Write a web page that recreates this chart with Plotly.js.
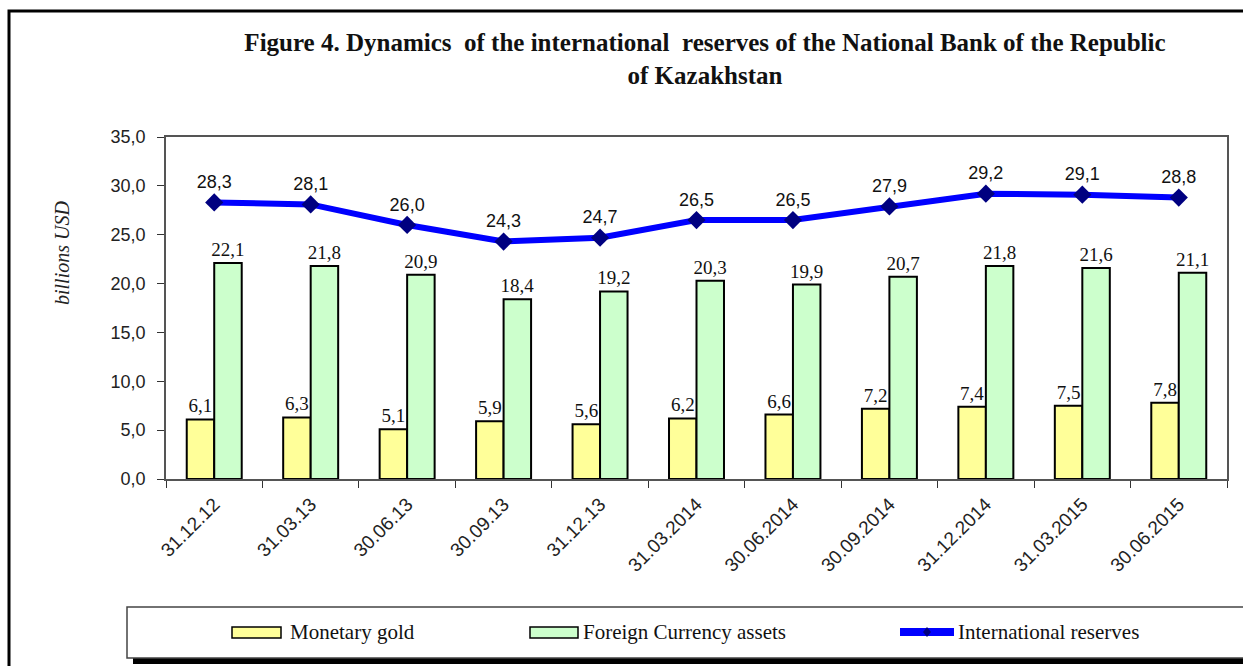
<!DOCTYPE html>
<html>
<head>
<meta charset="utf-8">
<script src="https://cdn.plot.ly/plotly-3.0.1.min.js"></script>
<style>
  body { margin: 0; background: #fff; }
  #chart { width: 1243px; height: 666px; }
</style>
</head>
<body>
<div id="chart"></div>
<script>
// data (billions USD)
var dates = ['31.12.12', '31.03.13', '30.06.13', '30.09.13', '31.12.13', '31.03.2014',
             '30.06.2014', '30.09.2014', '31.12.2014', '31.03.2015', '30.06.2015'];
var gold = [6.1, 6.3, 5.1, 5.9, 5.6, 6.2, 6.6, 7.2, 7.4, 7.5, 7.8];
var foreignAssets = [22.1, 21.8, 20.9, 18.4, 19.2, 20.3, 19.9, 20.7, 21.8, 21.6, 21.1];
var reserves = [28.3, 28.1, 26.0, 24.3, 24.7, 26.5, 26.5, 27.9, 29.2, 29.1, 28.8];
var legendNames = ['Monetary gold', 'Foreign Currency assets', 'International reserves'];

var W = 1243, H = 666;
var L = 166, R = 1227, T = 137, B = 479;   // plot area in pixels

// pixel -> paper coords
function px(x) { return (x - L) / (R - L); }
function py(y) { return (B - y) / (B - T); }

var serif = 'Liberation Serif, Times New Roman, serif';
var sans = 'Liberation Sans, Arial, sans-serif';

var goldBars = {
  type: 'bar', x: dates, y: gold, name: legendNames[0],
  marker: { color: '#FFFF99', line: { color: '#000', width: 2 } },
  texttemplate: '%{y:.1f}', textposition: 'outside', cliponaxis: false, constraintext: 'none',
  textfont: { family: serif, size: 19, color: '#111' },
  hoverinfo: 'x+y'
};
var fxBars = {
  type: 'bar', x: dates, y: foreignAssets, name: legendNames[1],
  marker: { color: '#CCFFCC', line: { color: '#000', width: 2 } },
  texttemplate: '%{y:.1f}', textposition: 'outside', cliponaxis: false, constraintext: 'none',
  textfont: { family: serif, size: 19, color: '#111' },
  hoverinfo: 'x+y'
};
var resLine = {
  type: 'scatter', mode: 'lines+markers+text', x: dates, y: reserves, name: legendNames[2],
  line: { color: '#0000FF', width: 6 },
  marker: { symbol: 'diamond', size: 14, color: '#000080' },
  texttemplate: '%{y:.1f}', textposition: 'top center', cliponaxis: false,
  textfont: { family: sans, size: 18, color: '#111' },
  hoverinfo: 'x+y'
};

var shapes = [
  // outer frame
  { type: 'rect', xref: 'paper', yref: 'paper', x0: px(9), x1: px(1270), y0: py(11), y1: py(700),
    line: { color: '#000', width: 3 } },
  // legend shadow + box
  { type: 'rect', xref: 'paper', yref: 'paper', x0: px(133), x1: px(1270), y0: py(658), y1: py(664),
    fillcolor: '#000', line: { width: 0 } },
  { type: 'rect', xref: 'paper', yref: 'paper', x0: px(127), x1: px(1270), y0: py(607), y1: py(658),
    fillcolor: '#fff', line: { color: '#444', width: 1.5 } },
  // legend swatches
  { type: 'rect', xref: 'paper', yref: 'paper', x0: px(232), x1: px(281), y0: py(627), y1: py(638),
    fillcolor: '#FFFF99', line: { color: '#000', width: 1.5 } },
  { type: 'rect', xref: 'paper', yref: 'paper', x0: px(530), x1: px(578), y0: py(627), y1: py(638),
    fillcolor: '#CCFFCC', line: { color: '#000', width: 1.5 } },
  { type: 'line', xref: 'paper', yref: 'paper', x0: px(900), x1: px(954), y0: py(632), y1: py(632),
    line: { color: '#0000FF', width: 8 } },
  { type: 'path', xref: 'paper', yref: 'paper',
    path: 'M' + px(927) + ',' + py(627) + ' L' + px(931) + ',' + py(632) + ' L' + px(927) + ',' + py(637) +
          ' L' + px(923) + ',' + py(632) + ' Z',
    fillcolor: '#000080', line: { width: 0 } }
];

var annotations = [
  { text: '<i>billions USD</i>', xref: 'paper', yref: 'paper', x: px(62), y: py(253), textangle: -90,
    showarrow: false, font: { family: serif, size: 20, color: '#222' }, xanchor: 'center', yanchor: 'middle' },
  { text: legendNames[0], xref: 'paper', yref: 'paper', x: px(288), y: py(632), showarrow: false,
    xanchor: 'left', yanchor: 'middle', font: { family: serif, size: 21, color: '#111' } },
  { text: legendNames[1], xref: 'paper', yref: 'paper', x: px(581), y: py(632), showarrow: false,
    xanchor: 'left', yanchor: 'middle', font: { family: serif, size: 21, color: '#111' } },
  { text: legendNames[2], xref: 'paper', yref: 'paper', x: px(956), y: py(632), showarrow: false,
    xanchor: 'left', yanchor: 'middle', font: { family: serif, size: 21, color: '#111' } }
];

var layout = {
  width: W, height: H,
  margin: { l: L, r: W - R, t: T, b: H - B },
  paper_bgcolor: '#fff', plot_bgcolor: '#fff',
  separators: ', ',
  showlegend: false,
  barmode: 'group', bargap: 0.43, bargroupgap: 0,
  title: {
    text: 'Figure 4. Dynamics  of the international  reserves of the National Bank of the Republic<br>of Kazakhstan',
    font: { family: serif, size: 25, color: '#111', weight: 'bold' },
    xref: 'container', yref: 'container', x: 705 / W, xanchor: 'center', y: 1 - 51 / H, yanchor: 'top'
  },
  xaxis: {
    type: 'category', range: [-0.5, 10.5], tickangle: -45, tickson: 'boundaries',
    ticks: 'outside', ticklen: 7, tickcolor: '#333', ticklabelstandoff: 5,
    showline: true, linecolor: '#555', linewidth: 1.5, mirror: true,
    showgrid: false, zeroline: false,
    tickfont: { family: sans, size: 19, color: '#222' }
  },
  yaxis: {
    range: [0, 35], dtick: 5, tickformat: '.1f',
    ticks: 'outside', ticklen: 7, tickcolor: '#333', ticklabelstandoff: 8,
    showline: true, linecolor: '#555', linewidth: 1.5, mirror: true,
    showgrid: false, zeroline: false,
    tickfont: { family: sans, size: 18, color: '#222' }
  },
  shapes: shapes,
  annotations: annotations
};

Plotly.newPlot('chart', [goldBars, fxBars, resLine], layout, { displayModeBar: false });
</script>
</body>
</html>
